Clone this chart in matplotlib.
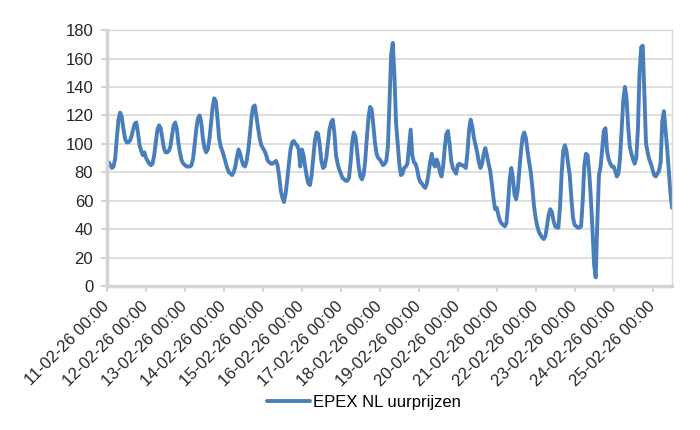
import matplotlib
matplotlib.use("Agg")
import matplotlib.pyplot as plt
import matplotlib.dates as mdates
import pandas as pd

# EPEX NL hourly prices (EUR/MWh), one list per day
day_11 = [86, 87, 85, 83, 84, 90, 104, 117, 122, 119, 111, 104, 101, 101, 102, 105, 110, 114, 115, 108, 99, 95, 92, 94]
day_12 = [90, 88, 86, 85, 86, 92, 101, 110, 113, 111, 104, 97, 94, 94, 95, 98, 106, 113, 115, 110, 100, 93, 88, 86]
day_13 = [85, 84, 84, 84, 85, 90, 100, 111, 118, 120, 115, 104, 97, 94, 96, 103, 114, 126, 132, 130, 118, 104, 98, 95]
day_14 = [91, 87, 83, 80, 79, 78, 80, 84, 91, 96, 93, 88, 85, 84, 88, 96, 107, 119, 126, 127, 119, 111, 104, 99]
day_15 = [97, 95, 92, 88, 87, 86, 86, 87, 88, 85, 77, 67, 62, 59, 65, 75, 86, 96, 101, 102, 100, 99, 96, 84]
day_16 = [96, 92, 84, 77, 72, 71, 78, 90, 102, 108, 107, 99, 88, 83, 84, 90, 100, 110, 115, 117, 108, 92, 86, 82]
day_17 = [79, 76, 75, 74, 74, 76, 87, 101, 108, 105, 95, 84, 77, 75, 78, 88, 104, 118, 126, 124, 113, 101, 93, 90]
day_18 = [89, 87, 85, 86, 88, 98, 130, 163, 171, 148, 115, 100, 86, 78, 79, 83, 84, 86, 98, 110, 92, 87, 86, 82]
day_19 = [76, 73, 72, 70, 69, 72, 79, 87, 93, 86, 84, 89, 86, 80, 77, 84, 97, 107, 109, 100, 88, 83, 81, 79]
day_20 = [85, 86, 85, 85, 84, 83, 94, 110, 117, 112, 104, 99, 94, 87, 83, 86, 93, 97, 92, 86, 81, 72, 62, 54]
day_21 = [55, 50, 46, 44, 43, 42, 44, 58, 75, 83, 76, 64, 61, 68, 82, 95, 105, 108, 104, 95, 87, 80, 69, 56]
day_22 = [48, 42, 38, 36, 34, 33, 35, 42, 50, 54, 52, 46, 42, 41, 41, 55, 79, 95, 99, 95, 86, 78, 62, 48]
day_23 = [43, 42, 41, 41, 42, 60, 85, 93, 92, 80, 62, 40, 15, 6, 45, 78, 84, 96, 109, 111, 95, 89, 86, 84]
day_24 = [84, 81, 77, 79, 90, 110, 131, 140, 132, 112, 98, 93, 89, 86, 90, 110, 150, 168, 169, 135, 100, 94, 89, 86]
day_25 = [82, 78, 77, 79, 81, 87, 116, 123, 110, 97, 82, 66, 55]

prices = (day_11 + day_12 + day_13 + day_14 + day_15 + day_16 + day_17 + day_18
          + day_19 + day_20 + day_21 + day_22 + day_23 + day_24 + day_25)
times = pd.date_range("2026-02-11 00:00", periods=len(prices), freq="h")

y_ticks = [0, 20, 40, 60, 80, 100, 120, 140, 160, 180]
series_name = "EPEX NL uurprijzen"

plt.rcParams['font.family'] = ['Liberation Sans', 'DejaVu Sans']

fig = plt.figure(figsize=(7, 4.3), dpi=100)
ax = fig.add_axes([0.153, 0.335, 0.807, 0.595])

ax.plot(times, prices, color="#4a7ebb", linewidth=2.8, solid_joinstyle="round",
        solid_capstyle="round", label=series_name)

ax.set_ylim(0, 180)
ax.set_yticks(y_ticks)
ax.set_xlim(times[0], times[-1])

ax.xaxis.set_major_locator(mdates.DayLocator())
ax.xaxis.set_major_formatter(mdates.DateFormatter("%d-%m-%y %H:%M"))

ax.grid(axis="y", color="#d9d9d9", linewidth=1.2)
ax.set_axisbelow(True)

for side in ["left", "bottom"]:
    ax.spines[side].set_color("#d4d4d4")
    ax.spines[side].set_linewidth(2.5)
for side in ["top", "right"]:
    ax.spines[side].set_color("#d9d9d9")
    ax.spines[side].set_linewidth(1)

ax.tick_params(axis="both", colors="#d4d4d4", length=4, width=1.5, labelcolor="#262626",
               labelsize=12)
ax.tick_params(axis="x", pad=9)
ax.tick_params(axis="y", pad=6)
for lbl in ax.get_xticklabels():
    lbl.set_rotation(45)
    lbl.set_ha("right")
    lbl.set_va("center")
    lbl.set_rotation_mode("anchor")

fig.legend(loc="center", bbox_to_anchor=(0.52, 0.065), frameon=False,
           fontsize=12, handlelength=2.6, handletextpad=0.2)

fig.savefig("out.png", dpi=100)
